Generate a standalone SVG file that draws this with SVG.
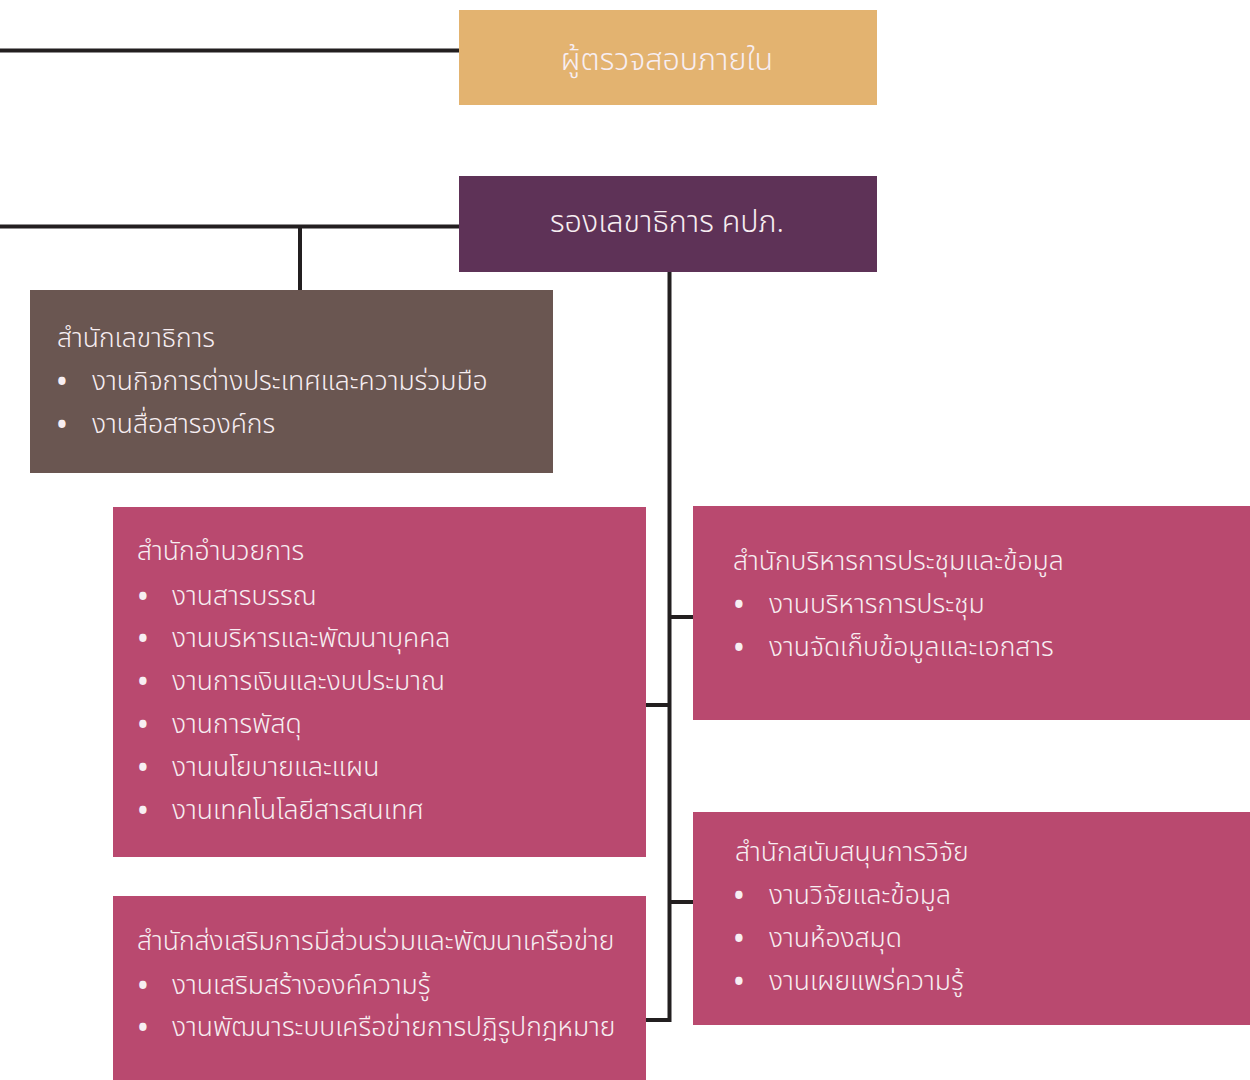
<svg xmlns="http://www.w3.org/2000/svg" width="1250" height="1080" viewBox="0 0 1250 1080">
<style>
.t{font-family:"Noto Sans Thai","Noto Sans","DejaVu Sans",sans-serif;fill:#f7eef2;font-size:26.5px;font-weight:300}
.h{font-size:30.5px}
.b{font-size:26px;font-weight:700}
.ln{stroke:#231f20;stroke-width:4;fill:none}
.gold{fill:#e3b370}.purple{fill:#5e3257}.brown{fill:#6a5651}.pink{fill:#b9496f}
</style>
<rect width="1250" height="1080" fill="#ffffff"/>
<g id="connectors">
<path class="ln" d="M0 50.5H460"/>
<path class="ln" d="M0 226.5H460"/>
<path class="ln" d="M300 226.5V290"/>
<path class="ln" d="M669.5 272V1022M646 705H669.5M669.5 617H693M669.5 902H693M646 1020H669.5"/>
</g>
<g id="auditor">
<rect class="gold" x="459" y="10" width="418" height="95"/>
<text class="t h" x="667" y="70" text-anchor="middle">ผู้ตรวจสอบภายใน</text>
</g>
<g id="deputy">
<rect class="purple" x="459" y="176" width="418" height="96"/>
<text class="t h" x="667" y="232" text-anchor="middle">รองเลขาธิการ คปภ.</text>
</g>
<g id="secretariat">
<rect class="brown" x="30" y="290" width="523" height="183"/>
<text class="t" x="57" y="347">สำนักเลขาธิการ</text>
<text class="t b" x="57" y="391">•</text><text class="t" x="92" y="390">งานกิจการต่างประเทศและความร่วมมือ</text>
<text class="t b" x="57" y="434">•</text><text class="t" x="92" y="433">งานสื่อสารองค์กร</text>
</g>
<g id="admin">
<rect class="pink" x="113" y="507" width="533" height="350"/>
<text class="t" x="137" y="560">สำนักอำนวยการ</text>
<text class="t b" x="138" y="606">•</text><text class="t" x="172" y="605">งานสารบรรณ</text>
<text class="t b" x="138" y="648">•</text><text class="t" x="172" y="647">งานบริหารและพัฒนาบุคคล</text>
<text class="t b" x="138" y="691">•</text><text class="t" x="172" y="690">งานการเงินและงบประมาณ</text>
<text class="t b" x="138" y="734">•</text><text class="t" x="172" y="733">งานการพัสดุ</text>
<text class="t b" x="138" y="777">•</text><text class="t" x="172" y="776">งานนโยบายและแผน</text>
<text class="t b" x="138" y="820">•</text><text class="t" x="172" y="819">งานเทคโนโลยีสารสนเทศ</text>
</g>
<g id="participation">
<rect class="pink" x="113" y="896" width="533" height="184"/>
<text class="t" x="137" y="950">สำนักส่งเสริมการมีส่วนร่วมและพัฒนาเครือข่าย</text>
<text class="t b" x="138" y="995">•</text><text class="t" x="172" y="994">งานเสริมสร้างองค์ความรู้</text>
<text class="t b" x="138" y="1037">•</text><text class="t" x="172" y="1036">งานพัฒนาระบบเครือข่ายการปฏิรูปกฎหมาย</text>
</g>
<g id="meeting">
<rect class="pink" x="693" y="506" width="557" height="214"/>
<text class="t" x="733" y="570">สำนักบริหารการประชุมและข้อมูล</text>
<text class="t b" x="734" y="614">•</text><text class="t" x="769" y="613">งานบริหารการประชุม</text>
<text class="t b" x="734" y="657">•</text><text class="t" x="769" y="656">งานจัดเก็บข้อมูลและเอกสาร</text>
</g>
<g id="research">
<rect class="pink" x="693" y="812" width="557" height="213"/>
<text class="t" x="735" y="861">สำนักสนับสนุนการวิจัย</text>
<text class="t b" x="734" y="905">•</text><text class="t" x="769" y="904">งานวิจัยและข้อมูล</text>
<text class="t b" x="734" y="948">•</text><text class="t" x="769" y="947">งานห้องสมุด</text>
<text class="t b" x="734" y="991">•</text><text class="t" x="769" y="990">งานเผยแพร่ความรู้</text>
</g>
</svg>
